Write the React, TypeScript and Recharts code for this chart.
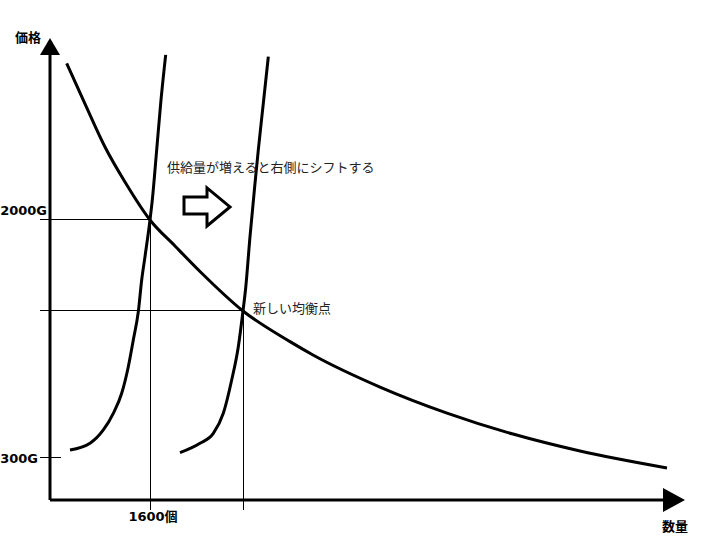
import { LineChart, Line, XAxis, YAxis, ReferenceLine, ReferenceDot } from "recharts";

// demand curve (quantity, price in G)
const demandQty = [267, 560, 880, 1200, 1600, 2000, 2400, 3088, 3840, 4208, 5280, 6352, 7408, 8480, 9872];
const demandPrice = [3119, 2829, 2521, 2271, 2000, 1814, 1632, 1350, 1131, 1036, 807, 621, 471, 350, 229];

// original supply curve
const supplyQty = [320, 640, 853, 1013, 1147, 1253, 1333, 1413, 1467, 1520, 1600, 1637, 1707, 1776, 1851];
const supplyPrice = [357, 405, 500, 619, 762, 952, 1143, 1345, 1571, 1738, 2000, 2143, 2500, 2857, 3179];

// supply after the shift to the right
const shiftedQty = [2080, 2400, 2613, 2773, 2907, 3013, 3088, 3131, 3200, 3280, 3333, 3413, 3493];
const shiftedPrice = [338, 405, 476, 619, 857, 1095, 1350, 1514, 1881, 2262, 2500, 2833, 3166];

const priceTicks = [300, 1350, 2000];
const priceTickLabels = ["300G", "", "2000G"];
const qtyTicks = [1600, 3088];
const qtyTickLabels = ["1600個", ""];

const zip = (qs: number[], ps: number[]) => qs.map((q, i) => ({ q, p: ps[i] }));
const demand = zip(demandQty, demandPrice);
const supply = zip(supplyQty, supplyPrice);
const shifted = zip(shiftedQty, shiftedPrice);

const LABEL_FONT = "'DejaVu Sans', 'Noto Sans CJK JP', sans-serif";
const NOTE_FONT = "'Noto Sans CJK JP', sans-serif";

function PriceTick({ x, y, payload }: any) {
  const label = priceTickLabels[priceTicks.indexOf(payload.value)];
  if (!label) return <g />;
  const raised = payload.value === 2000;
  return (
    <text
      x={raised ? x + 9 : x}
      y={raised ? y - 9.5 : y}
      dy="0.36em"
      textAnchor="end"
      fontFamily={LABEL_FONT}
      fontWeight={700}
      fontSize={13}
      fill="#000"
    >
      {label}
    </text>
  );
}

function QtyTick({ x, y, payload }: any) {
  const label = qtyTickLabels[qtyTicks.indexOf(payload.value)];
  if (!label) return <g />;
  return (
    <text x={x + 3} y={y} dy="0.71em" textAnchor="middle" fontFamily={LABEL_FONT} fontWeight={700} fontSize={13} fill="#000">
      {label}
    </text>
  );
}

const thin = { stroke: "#000", strokeWidth: 1, shapeRendering: "crispEdges" as const };
const curve = { type: "monotone" as const, stroke: "#000", strokeWidth: 3, dot: false, isAnimationActive: false, dataKey: "p" };

export default function App() {
  return (
    <div style={{ position: "absolute", left: 0, top: 0, background: "#fff" }}>
      <LineChart width={720} height={540} margin={{ top: 42, right: 40, bottom: 0, left: 0 }}>
        <XAxis
          type="number"
          dataKey="q"
          domain={[0, 10080]}
          ticks={qtyTicks}
          interval={0}
          height={40}
          tickSize={10}
          tickMargin={2}
          axisLine={{ stroke: "#000", strokeWidth: 3 }}
          tickLine={thin}
          tick={<QtyTick />}
        />
        <YAxis
          type="number"
          dataKey="p"
          domain={[0, 3271]}
          ticks={priceTicks}
          interval={0}
          width={50}
          tickSize={10}
          tickMargin={2}
          axisLine={{ stroke: "#000", strokeWidth: 3 }}
          tickLine={thin}
          tick={<PriceTick />}
        />

        <ReferenceLine segment={[{ x: 0, y: 2000 }, { x: 1600, y: 2000 }]} {...thin} />
        <ReferenceLine segment={[{ x: 1600, y: 2000 }, { x: 1600, y: 0 }]} {...thin} />
        <ReferenceLine segment={[{ x: 0, y: 1350 }, { x: 3088, y: 1350 }]} {...thin} />
        <ReferenceLine segment={[{ x: 3088, y: 1350 }, { x: 3088, y: 0 }]} {...thin} />
        <ReferenceLine segment={[{ x: 0, y: 300 }, { x: 170, y: 300 }]} {...thin} />

        <Line {...curve} data={demand} />
        <Line {...curve} data={supply} />
        <Line {...curve} data={shifted} />

        {/* axis arrowheads and titles */}
        <ReferenceDot
          x={0}
          y={3271}
          ifOverflow="visible"
          shape={({ cx, cy }: any) => (
            <g>
              <polygon points={`${cx - 10},${cy + 13} ${cx + 10},${cy + 13} ${cx},${cy - 4}`} fill="#000" />
              <text x={cx - 9} y={cy - 4.5} dy="0.36em" textAnchor="end" fontFamily={LABEL_FONT} fontWeight={700} fontSize={13} fill="#000">
                価格
              </text>
            </g>
          )}
        />
        <ReferenceDot
          x={10080}
          y={0}
          ifOverflow="visible"
          shape={({ cx, cy }: any) => (
            <g>
              <polygon points={`${cx - 17},${cy - 12} ${cx - 17},${cy + 12} ${cx + 5},${cy}`} fill="#000" />
              <text x={cx - 5} y={cy + 26} dy="0.36em" textAnchor="middle" fontFamily={LABEL_FONT} fontWeight={700} fontSize={13} fill="#000">
                数量
              </text>
            </g>
          )}
        />

        {/* shift annotation */}
        <ReferenceDot
          x={2144}
          y={2100}
          ifOverflow="visible"
          shape={({ cx, cy }: any) => (
            <polygon
              points={`${cx},${cy - 9} ${cx + 23},${cy - 9} ${cx + 23},${cy - 18} ${cx + 46},${cy + 1} ${cx + 23},${cy + 20} ${cx + 23},${cy + 8} ${cx},${cy + 8}`}
              fill="#fff"
              stroke="#000"
              strokeWidth={3}
            />
          )}
        />
        <ReferenceDot
          x={1872}
          y={2379}
          ifOverflow="visible"
          shape={({ cx, cy }: any) => (
            <text x={cx} y={cy} dy="0.36em" fontFamily={NOTE_FONT} fontSize={13} fill="#222">
              供給量が増えると右側にシフトする
            </text>
          )}
        />
        <ReferenceDot
          x={3088}
          y={1350}
          ifOverflow="visible"
          shape={({ cx, cy }: any) => (
            <text x={cx + 10} y={cy - 3} dy="0.36em" fontFamily={NOTE_FONT} fontSize={13} fill="#222">
              新しい均衡点
            </text>
          )}
        />
      </LineChart>
    </div>
  );
}
